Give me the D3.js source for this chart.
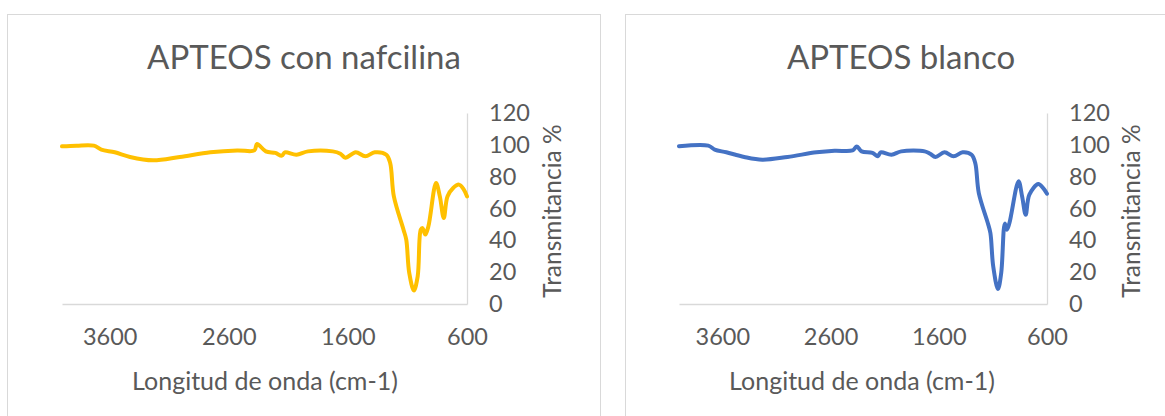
<!DOCTYPE html>
<html><head><meta charset="utf-8">
<script src="https://cdn.jsdelivr.net/npm/d3@7"></script>
<style>body{margin:0;background:#fff}svg{display:block}text{font-family:Lato,"Open Sans",sans-serif;fill:#595959}</style>
</head><body>
<svg id="c" width="1165" height="416"></svg>
<script>
const xTicks = [3600, 2600, 1600, 600];
const yTicks = [0, 20, 40, 60, 80, 100, 120];
const titles = ["APTEOS con nafcilina", "APTEOS blanco"];
const xTitle = "Longitud de onda (cm-1)";
const yTitle = "Transmitancia %";
const colors = ["#FFC000", "#4472C4"];

const wnNaf = [4000,3878,3733,3670,3557,3429,3236,3011,2755,2529,2385,2363,2289,2209,2154,2129,2032,1936,1727,1663,1621,1534,1454,1374,1277,1245,1214,1133,1110,1085,1046,1014,988,973,950,924,860,828,795,764,716,667,629,600];
const trNaf = [99.1,99.5,99.5,97,95.3,92.4,90.3,92.4,95.3,96.5,96.5,100.5,95.9,94.9,93.2,95.3,93.8,95.9,95.9,94.4,91.9,95.3,92.8,95.3,93.8,88.6,67.6,46.7,40.4,19.5,8.5,17.4,46.7,47.7,43.6,48.8,76,67.6,54,67.6,72.9,75,72.2,67.6];

const wnBla = [4000,3730,3670,3563,3397,3230,2997,2730,2563,2397,2357,2313,2213,2163,2137,2037,1947,1730,1680,1630,1547,1463,1380,1297,1263,1230,1147,1123,1097,1053,1023,990,970,947,863,830,797,763,680,637,600];
const trBla = [99.1,99.5,97,95.3,92.4,90.7,92.4,95.3,96.3,96.5,99,95.9,94.9,92.8,95.3,93.8,95.9,95.9,94.4,92.4,95.3,92.8,95.3,93.8,88.6,69.7,50.9,44.6,23.7,9.4,19.5,50.5,46.7,50.9,77.1,67.6,56.1,68.7,75.4,72.9,69.3];

const svg = d3.select("#c");
const panels = [
  {bx:7, by:14, bw:593, bh:430, x0:62, x1:467, yTop:113, yBot:304, titleX:304, xTitleX:265, yTitleX:552, wn:wnNaf, tr:trNaf},
  {bx:625, by:14, bw:600, bh:430, x0:679, x1:1047, yTop:113, yBot:304, titleX:901, xTitleX:862, yTitleX:1131, wn:wnBla, tr:trBla}
];

panels.forEach((p, i) => {
  svg.append("rect").attr("x", p.bx + 0.5).attr("y", p.by + 0.5).attr("width", p.bw).attr("height", p.bh)
    .attr("fill", "#fff").attr("stroke", "#d9d9d9").attr("stroke-width", 1);
  const x = d3.scaleLinear().domain([4000, 600]).range([p.x0, p.x1]);
  const y = d3.scaleLinear().domain([0, 120]).range([p.yBot, p.yTop]);
  const g = svg.append("g");
  const xa = g.append("g").attr("transform", `translate(0,${p.yBot})`)
    .call(d3.axisBottom(x).tickValues(xTicks).tickSize(0).tickSizeOuter(0).tickPadding(24).tickFormat(d3.format("d")));
  const ya = g.append("g").attr("transform", `translate(${p.x1},0)`)
    .call(d3.axisRight(y).tickValues(yTicks).tickSize(0).tickSizeOuter(0).tickPadding(22));
  [xa, ya].forEach(a => {
    a.select(".domain").attr("stroke", "#d9d9d9").attr("stroke-width", 1.3);
    a.selectAll("text").style("font-size", "23.5px").attr("fill", "#595959");
  });
  const data = p.wn.map((w, k) => [w, p.tr[k]]);
  g.append("path").datum(data)
    .attr("fill", "none").attr("stroke", colors[i]).attr("stroke-width", 4)
    .attr("stroke-linejoin", "round").attr("stroke-linecap", "round")
    .attr("d", d3.line().x(d => x(d[0])).y(d => y(d[1])).curve(d3.curveCatmullRom.alpha(0.5)));
  svg.append("text").attr("x", p.titleX).attr("y", 69).attr("text-anchor", "middle")
    .style("font-size", "33px").text(titles[i]);
  svg.append("text").attr("x", p.xTitleX).attr("y", 390).attr("text-anchor", "middle")
    .style("font-size", "25px").text(xTitle);
  svg.append("text").attr("transform", `translate(${p.yTitleX},211) rotate(-90)`).attr("text-anchor", "middle")
    .attr("dy", "0.35em").style("font-size", "24.5px").text(yTitle);
});
</script>
</body></html>
